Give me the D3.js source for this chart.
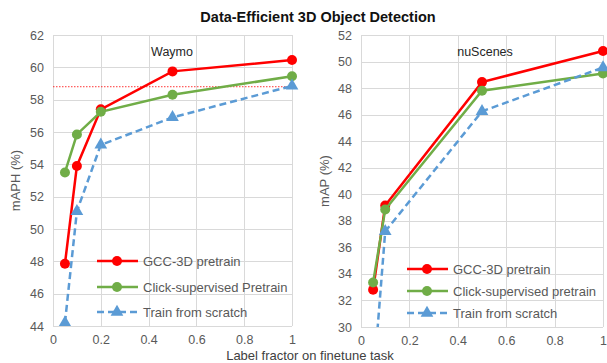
<!DOCTYPE html>
<meta charset="utf-8">
<style>
body { margin: 0; background: #fff; font-family: "Liberation Sans", Arial, sans-serif; }
.grid line { stroke: #d9d9d9; stroke-width: 1; shape-rendering: crispEdges; }
.tick text { fill: #595959; font-size: 12.5px; }
</style>
<body>
<script src="https://cdn.jsdelivr.net/npm/d3@7"></script>
<script>
// label fractions
var fractions = [0.05, 0.1, 0.2, 0.5, 1];
var fractionsNu = [0.05, 0.1, 0.5, 1];

// Waymo mAPH
var waymoGcc = [47.85, 53.9, 57.4, 59.75, 60.45];
var waymoClick = [53.5, 55.85, 57.25, 58.3, 59.45];
var waymoScratch = [44.2, 51.1, 55.2, 56.9, 58.85];
var waymoRef = 58.8;

// nuScenes mAP
var nuGcc = [32.8, 39.15, 48.45, 50.8];
var nuClick = [33.35, 38.85, 47.8, 49.1];
var nuScratch = [25.6, 37.2, 46.25, 49.55];

var xTicks = [0, 0.2, 0.4, 0.6, 0.8, 1];
var waymoTicks = [44, 46, 48, 50, 52, 54, 56, 58, 60, 62];
var nuTicks = [30, 32, 34, 36, 38, 40, 42, 44, 46, 48, 50, 52];

var red = "#ff0000", green = "#70ad47", blue = "#5b9bd5";

var svg = d3.select("body").append("svg").attr("width", 607).attr("height", 363);

svg.append("text").attr("x", 318).attr("y", 22).attr("text-anchor", "middle")
  .style("font-size", "14.5px").style("font-weight", "bold").style("fill", "#111")
  .text("Data-Efficient 3D Object Detection");

svg.append("text").attr("x", 310).attr("y", 360).attr("text-anchor", "middle")
  .style("font-size", "13px").style("fill", "#404040").text("Label fractor on finetune task");

function panel(opt) {
  var x = d3.scaleLinear().domain([0, 1]).range([opt.x0, opt.x1]);
  var y = d3.scaleLinear().domain(opt.domain).range([opt.y1, opt.y0]);
  var g = svg.append("g");
  var clipId = "clip" + opt.id;
  svg.append("clipPath").attr("id", clipId).append("rect")
    .attr("x", opt.x0 - 8).attr("y", opt.y0 - 8)
    .attr("width", opt.x1 - opt.x0 + 16).attr("height", opt.y1 - opt.y0 + 8);

  var grid = g.append("g").attr("class", "grid");
  grid.selectAll(".h").data(opt.yTicks).enter().append("line")
    .attr("x1", opt.x0).attr("x2", opt.x1)
    .attr("y1", function(d) { return Math.round(y(d)) + 0.5; })
    .attr("y2", function(d) { return Math.round(y(d)) + 0.5; });
  grid.selectAll(".v").data(xTicks).enter().append("line")
    .attr("y1", opt.y0).attr("y2", opt.y1)
    .attr("x1", function(d) { return Math.round(x(d)) + 0.5; })
    .attr("x2", function(d) { return Math.round(x(d)) + 0.5; });

  // axes labels
  var xa = g.append("g").attr("transform", "translate(0," + (opt.y1 + 6) + ")")
    .call(d3.axisBottom(x).tickValues(xTicks).tickSize(0).tickFormat(function(d) { return d; }));
  xa.select(".domain").remove();
  var ya = g.append("g").attr("transform", "translate(" + (opt.x0 - 6) + ",0)")
    .call(d3.axisLeft(y).tickValues(opt.yTicks).tickSize(0));
  ya.select(".domain").remove();

  g.append("text").attr("transform", "translate(" + opt.labelX + "," + ((opt.y0 + opt.y1) / 2) + ") rotate(-90)")
    .attr("text-anchor", "middle").style("font-size", "13px").style("fill", "#595959").text(opt.ylabel);

  g.append("text").attr("x", opt.titleX).attr("y", 56).attr("text-anchor", "middle")
    .style("font-size", "12.5px").style("fill", "#262626").text(opt.title);

  var plot = g.append("g").attr("clip-path", "url(#" + clipId + ")");

  if (opt.ref != null) {
    plot.append("line").attr("x1", x(0)).attr("x2", x(1))
      .attr("y1", y(opt.ref)).attr("y2", y(opt.ref))
      .attr("stroke", red).attr("stroke-width", 0.8).attr("stroke-dasharray", "1.5,1.5");
  }

  var line = d3.line().x(function(d) { return x(d[0]); }).y(function(d) { return y(d[1]); });
  opt.series.forEach(function(s) {
    var pts = opt.xs.map(function(v, i) { return [v, s.values[i]]; });
    plot.append("path").datum(pts).attr("fill", "none").attr("stroke", s.color)
      .attr("stroke-width", 2.5).attr("stroke-dasharray", s.dash ? "7,4" : null)
      .attr("d", line);
    var vis = pts.filter(function(p) { return p[1] >= opt.domain[0]; });
    if (s.tri) {
      plot.selectAll(null).data(vis).enter().append("path")
        .attr("d", d3.symbol().type(d3.symbolTriangle).size(70))
        .attr("transform", function(p) { return "translate(" + x(p[0]) + "," + y(p[1]) + ")"; })
        .attr("fill", s.color);
    } else {
      plot.selectAll(null).data(vis).enter().append("circle")
        .attr("cx", function(p) { return x(p[0]); }).attr("cy", function(p) { return y(p[1]); })
        .attr("r", 5).attr("fill", s.color);
    }
  });

  // legend
  var lg = g.selectAll(".legend").data(opt.series).enter().append("g")
    .attr("transform", function(s, i) { return "translate(0," + opt.legendY[i] + ")"; });
  lg.append("line").attr("x1", opt.legX).attr("x2", opt.legX + 41)
    .attr("stroke", function(s) { return s.color; }).attr("stroke-width", 2.5)
    .attr("stroke-dasharray", function(s) { return s.dash ? "7,4" : null; });
  lg.each(function(s) {
    var el = d3.select(this);
    if (s.tri) {
      el.append("path").attr("d", d3.symbol().type(d3.symbolTriangle).size(70))
        .attr("transform", "translate(" + (opt.legX + 20) + ",0)").attr("fill", s.color);
    } else {
      el.append("circle").attr("cx", opt.legX + 20).attr("r", 5).attr("fill", s.color);
    }
  });
  lg.append("text").attr("x", opt.legX + 46).attr("dy", "0.35em")
    .style("font-size", "13px").style("fill", "#595959").text(function(s) { return s.name; });
}

panel({
  id: 1, x0: 53, x1: 292, y0: 35, y1: 326, domain: [44, 62], yTicks: waymoTicks,
  xs: fractions, ylabel: "mAPH (%)", labelX: 20, title: "Waymo", titleX: 172, ref: waymoRef,
  legX: 97, legendY: [261, 287, 312],
  series: [
    { name: "GCC-3D pretrain", values: waymoGcc, color: red },
    { name: "Click-supervised Pretrain", values: waymoClick, color: green },
    { name: "Train from scratch", values: waymoScratch, color: blue, dash: true, tri: true }
  ]
});

panel({
  id: 2, x0: 361, x1: 603, y0: 35, y1: 327, domain: [30, 52], yTicks: nuTicks,
  xs: fractionsNu, ylabel: "mAP (%)", labelX: 329, title: "nuScenes", titleX: 485, ref: null,
  legX: 407, legendY: [269, 291, 313],
  series: [
    { name: "GCC-3D pretrain", values: nuGcc, color: red },
    { name: "Click-supervised pretrain", values: nuClick, color: green },
    { name: "Train from scratch", values: nuScratch, color: blue, dash: true, tri: true }
  ]
});
</script>
</body>
